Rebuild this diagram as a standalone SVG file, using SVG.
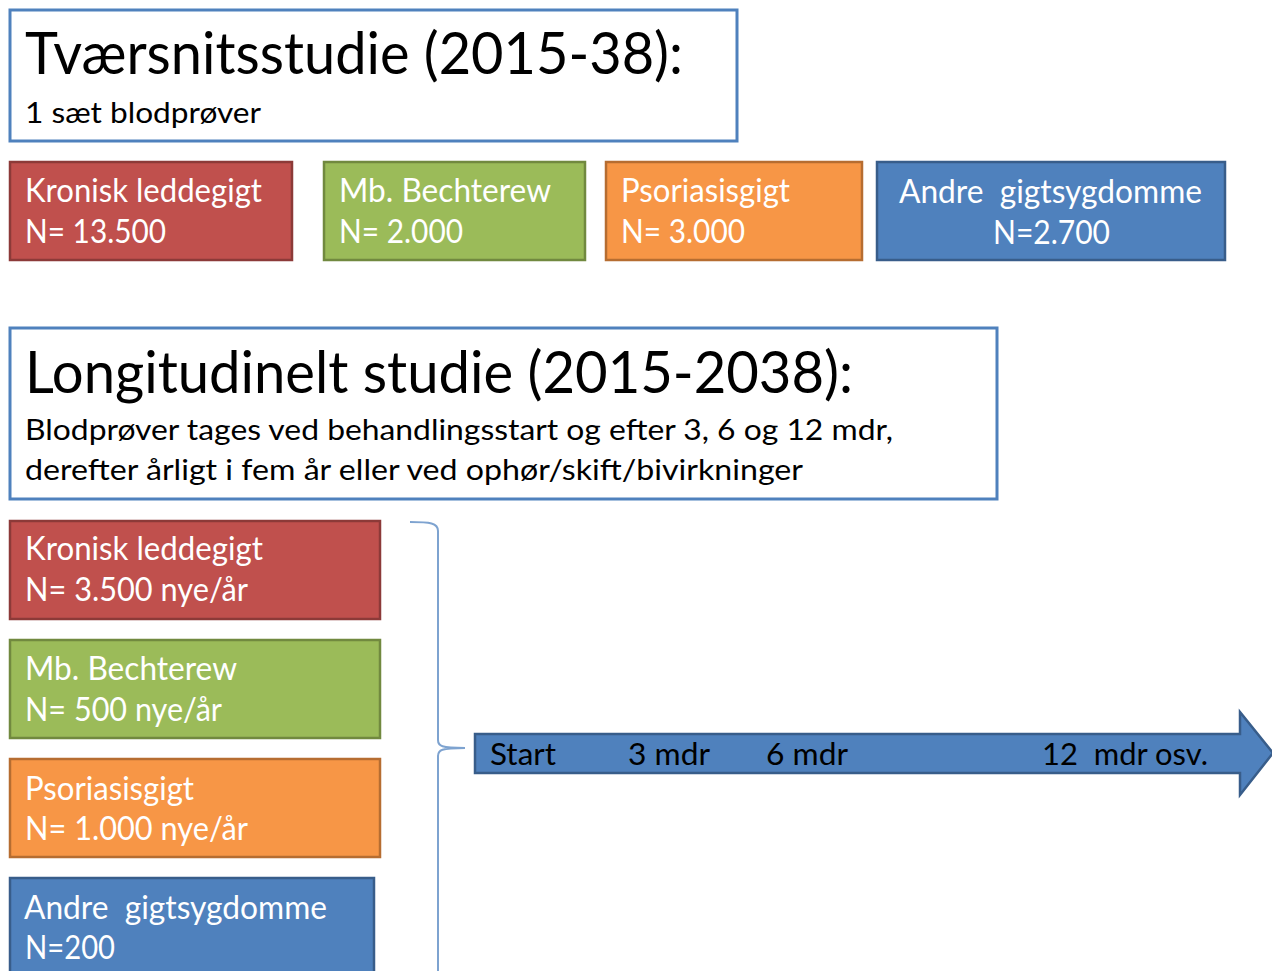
<svg xmlns="http://www.w3.org/2000/svg" width="1272" height="971" viewBox="0 0 1272 971">
<style>
text{font-family:Lato,"Open Sans","Liberation Sans",sans-serif;white-space:pre}
.hdr{fill:#fff;stroke:#4f81bd;stroke-width:3}
.title{font-size:58px;fill:#000}
.sub{font-size:28px;fill:#000}
.lbl{font-size:33px;fill:#fff}
.red{fill:#c0504d;stroke:#8c3a38;stroke-width:2.5}
.green{fill:#9bbb59;stroke:#71893f;stroke-width:2.5}
.orange{fill:#f79646;stroke:#b66d31;stroke-width:2.5}
.blue{fill:#4f81bd;stroke:#385d8a;stroke-width:2.5}
.arr{font-size:31px;fill:#000}
</style>
<rect width="1272" height="971" fill="#fff"/>
<g id="cross-header">
<rect class="hdr" x="10" y="10" width="727" height="131"/>
<text class="title" x="25" y="74" textLength="658" lengthAdjust="spacingAndGlyphs">Tværsnitsstudie (2015-38):</text>
<text class="sub" x="25" y="123" textLength="236" lengthAdjust="spacingAndGlyphs">1 sæt blodprøver</text>
</g>
<g id="cross-kronisk">
<rect class="red" x="10" y="162" width="282" height="98"/>
<text class="lbl" x="25" y="202" textLength="237" lengthAdjust="spacingAndGlyphs">Kronisk leddegigt</text>
<text class="lbl" x="25" y="243" textLength="141" lengthAdjust="spacingAndGlyphs">N= 13.500</text>
</g>
<g id="cross-bechterew">
<rect class="green" x="324" y="162" width="261" height="98"/>
<text class="lbl" x="339" y="202" textLength="212" lengthAdjust="spacingAndGlyphs">Mb. Bechterew</text>
<text class="lbl" x="339" y="243" textLength="124" lengthAdjust="spacingAndGlyphs">N= 2.000</text>
</g>
<g id="cross-psoriasis">
<rect class="orange" x="606" y="162" width="256" height="98"/>
<text class="lbl" x="621" y="202" textLength="169" lengthAdjust="spacingAndGlyphs">Psoriasisgigt</text>
<text class="lbl" x="621" y="243" textLength="124" lengthAdjust="spacingAndGlyphs">N= 3.000</text>
</g>
<g id="cross-andre">
<rect class="blue" x="877" y="162" width="348" height="98"/>
<text class="lbl" x="899" y="203" textLength="303" lengthAdjust="spacingAndGlyphs">Andre  gigtsygdomme</text>
<text class="lbl" x="993" y="244" textLength="117" lengthAdjust="spacingAndGlyphs">N=2.700</text>
</g>
<g id="long-header">
<rect class="hdr" x="10" y="328" width="987" height="171"/>
<text class="title" x="25" y="393" textLength="828" lengthAdjust="spacingAndGlyphs">Longitudinelt studie (2015-2038):</text>
<text class="sub" x="25" y="440" textLength="868" lengthAdjust="spacingAndGlyphs">Blodprøver tages ved behandlingsstart og efter 3, 6 og 12 mdr,</text>
<text class="sub" x="25" y="480" textLength="778" lengthAdjust="spacingAndGlyphs">derefter årligt i fem år eller ved ophør/skift/bivirkninger</text>
</g>
<g id="long-kronisk">
<rect class="red" x="10" y="521" width="370" height="98"/>
<text class="lbl" x="25" y="560" textLength="238" lengthAdjust="spacingAndGlyphs">Kronisk leddegigt</text>
<text class="lbl" x="25" y="601" textLength="223" lengthAdjust="spacingAndGlyphs">N= 3.500 nye/år</text>
</g>
<g id="long-bechterew">
<rect class="green" x="10" y="640" width="370" height="98"/>
<text class="lbl" x="25" y="680" textLength="212" lengthAdjust="spacingAndGlyphs">Mb. Bechterew</text>
<text class="lbl" x="25" y="721" textLength="197" lengthAdjust="spacingAndGlyphs">N= 500 nye/år</text>
</g>
<g id="long-psoriasis">
<rect class="orange" x="10" y="759" width="370" height="98"/>
<text class="lbl" x="25" y="800" textLength="169" lengthAdjust="spacingAndGlyphs">Psoriasisgigt</text>
<text class="lbl" x="25" y="840" textLength="223" lengthAdjust="spacingAndGlyphs">N= 1.000 nye/år</text>
</g>
<g id="long-andre">
<rect class="blue" x="10" y="878" width="364" height="110"/>
<text class="lbl" x="24" y="919" textLength="303" lengthAdjust="spacingAndGlyphs">Andre  gigtsygdomme</text>
<text class="lbl" x="25" y="959" textLength="90" lengthAdjust="spacingAndGlyphs">N=200</text>
</g>
<g id="connectors">
<path d="M410,522 C430,522 438,523 438,531 L438,740 C438,746 441,748 465,748 M465,748 C441,748 438,750 438,756 L438,975" fill="none" stroke="#7ea3d0" stroke-width="2"/>
</g>
<g id="timeline">
<path class="blue" d="M475,734 L1240,734 L1240,712 L1273,753 L1240,795 L1240,773 L475,773 Z"/>
<text class="arr" x="490" y="765" textLength="66" lengthAdjust="spacingAndGlyphs">Start</text>
<text class="arr" x="628" y="765" textLength="82" lengthAdjust="spacingAndGlyphs">3 mdr</text>
<text class="arr" x="766" y="765" textLength="82" lengthAdjust="spacingAndGlyphs">6 mdr</text>
<text class="arr" x="1042" y="765" textLength="166" lengthAdjust="spacingAndGlyphs">12  mdr osv.</text>
</g>
</svg>
